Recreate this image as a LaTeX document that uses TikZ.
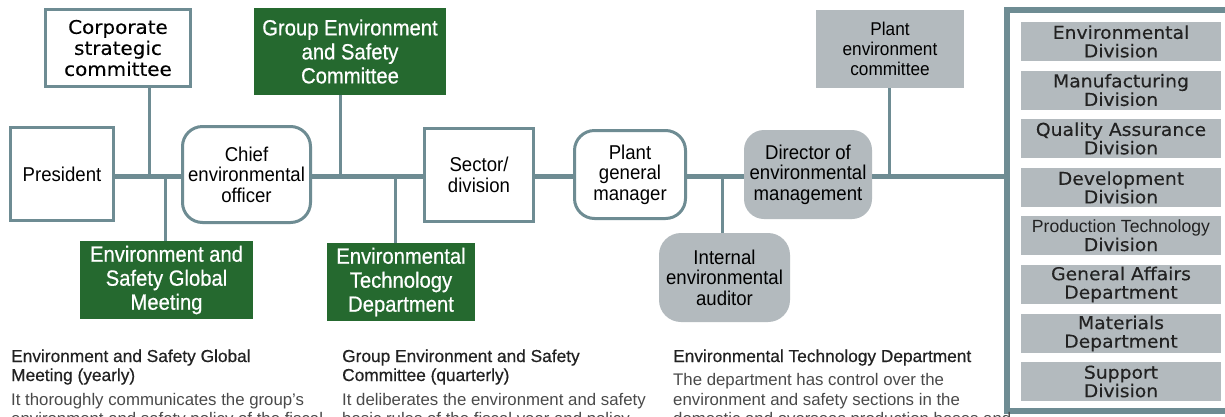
\documentclass[tikz,border=0pt]{standalone}
\usepackage{fontspec}
\setmainfont{Liberation Sans}
\newfontfamily\narrowf[FakeStretch=0.93]{Liberation Sans}
\newfontfamily\condf[FakeStretch=0.92,FakeBold=0.6]{Liberation Sans}
\newfontfamily\widef[FakeStretch=1.06,FakeBold=0.3]{DejaVu Sans}
\newfontfamily\plainf{Liberation Sans}
\newfontfamily\headf[FakeBold=0.5]{Liberation Sans}
\definecolor{linecol}{HTML}{6E8C93}
\definecolor{greenf}{HTML}{25692F}
\definecolor{grayf}{HTML}{B3BABE}
\definecolor{headcol}{HTML}{222222}
\definecolor{bodycol}{HTML}{4A4A4A}
\tikzset{
  box/.style={draw=linecol, line width=3pt, fill=white, inner sep=0pt, align=center,
    font={\narrowf\fontsize{20}{20.5}\selectfont}, text=black},
  rbox/.style={box, rounded corners=20pt},
  greenbox/.style={fill=greenf, draw=none, text=white, inner sep=0pt, align=center,
    font={\condf\fontsize{22}{24}\selectfont}},
  graybox/.style={fill=grayf, draw=none, text=black, inner sep=0pt, align=center,
    font={\narrowf\fontsize{20}{20.5}\selectfont}},
  listbox/.style={fill=grayf, draw=none, text=headcol, inner sep=0pt, align=center,
    minimum width=200pt, minimum height=39pt,
    font={\widef\fontsize{17.7}{18.5}\selectfont}},
  mainline/.style={draw=linecol, line width=5pt},
  branch/.style={draw=linecol, line width=3pt},
  framel/.style={draw=linecol, line width=6pt},
  head/.style={anchor=base west, inner sep=0pt, text=headcol,
    font={\headf\fontsize{17.3}{19}\selectfont}},
  body/.style={anchor=base west, inner sep=0pt, text=bodycol,
    font={\plainf\fontsize{16.8}{19}\selectfont}},
}
\begin{document}
\begin{tikzpicture}[x=1pt,y=-1pt]
\path[use as bounding box, clip] (0,0) rectangle (1225,416);
\fill[white] (0,0) rectangle (1225,416);

% frame on the right
\coordinate (frameL) at (1007,176);
\coordinate (frTop) at (1232,9.5);
\coordinate (frBot) at (1232,410.5);
\draw[framel] (frTop) -- (frameL |- frTop) -- (frameL |- frBot) -- (frBot);

% main line level and junctions
\coordinate (mainL) at (0,176);
\coordinate (j1) at (149,176);
\coordinate (j2) at (165,176);
\coordinate (j3) at (340,176);
\coordinate (j4) at (395,176);
\coordinate (j5) at (722,176);
\coordinate (j6) at (889,176);

% nodes
\node[box, minimum width=145pt, minimum height=77pt,
  font={\widef\fontsize{18.8}{21}\selectfont}] (corp) at (118,48) {Corporate\\strategic\\committee};
\node[box, minimum width=103pt, minimum height=93pt] (pres) at (62,174) {President};
\node[rbox, minimum width=128pt, minimum height=96pt] (cheo) at (246.5,174.5) {Chief\\environmental\\officer};
\node[greenbox, minimum width=192pt, minimum height=87pt] (gesc) at (350,51.5) {Group Environment\\and Safety\\Committee};
\node[greenbox, minimum width=173pt, minimum height=78pt] (esgm) at (166.5,280) {Environment and\\Safety Global\\Meeting};
\node[greenbox, minimum width=148pt, minimum height=78pt] (etd) at (401,282) {Environmental\\Technology\\Department};
\node[box, minimum width=109pt, minimum height=93pt] (sector) at (479,175) {Sector/\\division};
\node[rbox, minimum width=111pt, minimum height=88pt] (pgm) at (630,174.5) {Plant\\general\\manager};
\node[graybox, rounded corners=20pt, minimum width=128pt, minimum height=89pt] (dir) at (808,174.5) {Director of\\environmental\\management};
\node[graybox, rounded corners=22pt, minimum width=131pt, minimum height=89pt] (aud) at (724.5,277.5) {Internal\\environmental\\auditor};
\node[graybox, minimum width=148pt, minimum height=78pt,
  font={\narrowf\fontsize{18.5}{20.3}\selectfont}] (pec) at (890,49) {Plant\\environment\\committee};

% connectors
\draw[mainline] (pres.east |- mainL) -- (cheo.west |- mainL);
\draw[mainline] (cheo.east |- mainL) -- (sector.west |- mainL);
\draw[mainline] (sector.east |- mainL) -- (pgm.west |- mainL);
\draw[mainline] (pgm.east |- mainL) -- (dir.west |- mainL);
\draw[mainline] (dir.east |- mainL) -- (frameL);
\draw[branch] (j1) -- (j1 |- corp.south);
\draw[branch] (j2) -- (j2 |- esgm.north);
\draw[branch] (j3) -- (j3 |- gesc.south);
\draw[branch] (j4) -- (j4 |- etd.north);
\draw[branch] (j5) -- (j5 |- aud.north);
\draw[branch] (j6) -- (j6 |- pec.south);

% list of divisions
\node[listbox] (l1) at (1121,41.5) {Environmental\\Division};
\node[listbox] (l2) at (1121,90) {Manufacturing\\Division};
\node[listbox] (l3) at (1121,138.5) {Quality Assurance\\Division};
\node[listbox] (l4) at (1121,187.5) {Development\\Division};
\node[listbox] (l5) at (1121,235.5) {{\plainf\fontsize{17.6}{18.5}\selectfont Production Technology}\\Division};
\node[listbox] (l6) at (1121,284.5) {General Affairs\\Department};
\node[listbox] (l7) at (1121,333.5) {Materials\\Department};
\node[listbox] (l8) at (1121,381.5) {Support\\Division};

% descriptions
\node[head] (h1a) at (11,362) {Environment and Safety Global};
\node[head] (h1b) at (11,381) {Meeting (yearly)};
\node[body] (b1a) at (11,405) {It thoroughly communicates the group’s};
\node[body] (b1b) at (11,424.5) {environment and safety policy of the fiscal};

\node[head] (h2a) at (342,362) {Group Environment and Safety};
\node[head] (h2b) at (342,381) {Committee (quarterly)};
\node[body] (b2a) at (342,405) {It deliberates the environment and safety};
\node[body] (b2b) at (342,424.5) {basic rules of the fiscal year and policy};

\node[head] (h3a) at (673,362) {Environmental Technology Department};
\node[body] (b3a) at (673,385) {The department has control over the};
\node[body] (b3b) at (673,405) {environment and safety sections in the};
\node[body] (b3c) at (673,424.5) {domestic and overseas production bases and};
\end{tikzpicture}
\end{document}
